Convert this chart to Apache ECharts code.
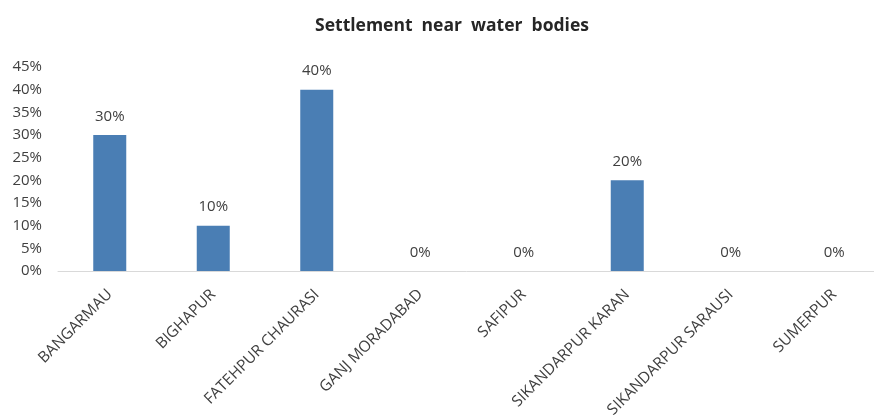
<!DOCTYPE html>
<html><head><meta charset="utf-8">
<script src="https://cdn.jsdelivr.net/npm/echarts@6/dist/echarts.min.js"></script>
<style>html,body{margin:0;padding:0;background:#fff}#c{width:874px;height:416px}</style>
</head><body><div id="c"></div>
<script>
const categories = ["BANGARMAU","BIGHAPUR","FATEHPUR CHAURASI","GANJ MORADABAD","SAFIPUR","SIKANDARPUR KARAN","SIKANDARPUR SARAUSI","SUMERPUR"];
const values = [30, 10, 40, 0, 0, 20, 0, 0];
const titleText = "Settlement  near  water  bodies";
const yMin = 0, yMax = 45, yStep = 5;

const chart = echarts.init(document.getElementById('c'));
chart.setOption({
  animation: false,
  title: {
    text: titleText, left: 447, top: 12, textAlign: 'center',
    textStyle: {fontFamily: 'Open Sans', fontWeight: 'bold', fontSize: 17.5, color: '#262626'}
  },
  grid: {left: 58, width: 828, top: 67, bottom: 145, containLabel: false, outerBoundsMode: 'none'},
  xAxis: {
    type: 'category', data: categories,
    axisLine: {lineStyle: {color: '#d9d9d9', width: 1}},
    axisTick: {show: false},
    axisLabel: {rotate: 45, interval: 0, margin: 21, fontFamily: 'Open Sans', fontSize: 15.5, color: '#404040'}
  },
  yAxis: {
    type: 'value', min: yMin, max: yMax, interval: yStep,
    splitLine: {show: false}, axisLine: {show: false}, axisTick: {show: false},
    axisLabel: {formatter: v => v + '%', fontFamily: 'Open Sans', fontSize: 15, color: '#404040', margin: 16}
  },
  series: [{
    type: 'bar', data: values, barWidth: 33,
    itemStyle: {color: '#4a7eb4'},
    label: {show: true, position: 'top', distance: 11, formatter: p => p.value + '%',
      fontFamily: 'Open Sans', fontSize: 15, color: '#404040'}
  }]
});
</script></body></html>
